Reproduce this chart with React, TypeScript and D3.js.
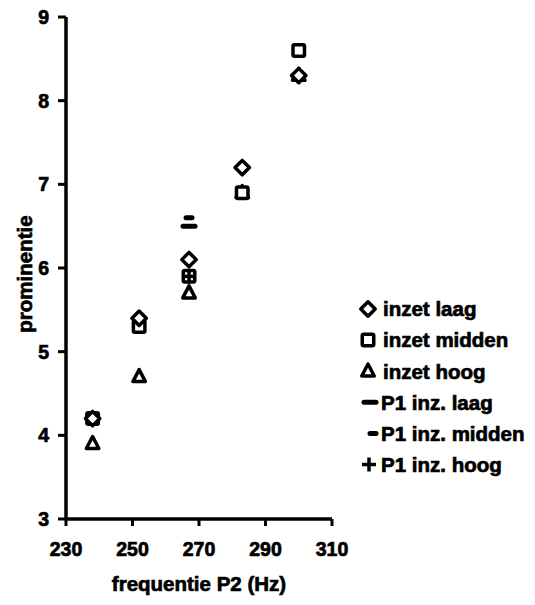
import React from "react";
import * as d3 from "d3";

const freqs = [238, 252, 267, 283, 300];
const inzetLaag = [4.2, 5.4, 6.1, 7.2, 8.3];
const inzetMidden = [4.2, 5.3, 5.9, 6.9, 8.6];
const inzetHoog = [3.9, 4.7, 5.7, 6.9, 8.3];
const p1Freqs = [267];
const p1Laag = [6.5];
const p1Midden = [6.6];
const p1Hoog = [5.9];

const seriesNames = ["inzet laag", "inzet midden", "inzet hoog", "P1 inz. laag", "P1 inz. midden", "P1 inz. hoog"];
const xTicks = [230, 250, 270, 290, 310];
const yTicks = [3, 4, 5, 6, 7, 8, 9];
const xTitle = "frequentie P2 (Hz)";
const yTitle = "prominentie";

const W = 535;
const H = 605;
const FONT = "'Liberation Sans', Arial, sans-serif";

type Kind = "diamond" | "square" | "triangle" | "longdash" | "shortdash" | "plus";

function Marker({ kind, x, y }: { kind: Kind; x: number; y: number }) {
  const sw = 3.5;
  if (kind === "diamond") {
    const r = 7.2;
    return (
      <path
        d={`M${x},${y - r}L${x + r},${y}L${x},${y + r}L${x - r},${y}Z`}
        fill="#fff"
        stroke="#000"
        strokeWidth={sw}
        strokeLinejoin="round"
      />
    );
  }
  if (kind === "square") {
    const s = 11.5;
    return <rect x={x - s / 2} y={y - s / 2} width={s} height={s} fill="#fff" stroke="#000" strokeWidth={sw} rx={1.5} />;
  }
  if (kind === "triangle") {
    const h = 12;
    const w = 12.5;
    return (
      <path
        d={`M${x},${y - h * 0.6}L${x + w / 2},${y + h * 0.4}L${x - w / 2},${y + h * 0.4}Z`}
        fill="#fff"
        stroke="#000"
        strokeWidth={sw}
        strokeLinejoin="round"
      />
    );
  }
  if (kind === "longdash") {
    return <line x1={x - 6} x2={x + 6} y1={y} y2={y} stroke="#000" strokeWidth={5} strokeLinecap="round" />;
  }
  if (kind === "shortdash") {
    return <line x1={x - 3} x2={x + 3} y1={y} y2={y} stroke="#000" strokeWidth={5} strokeLinecap="round" />;
  }
  return (
    <g stroke="#000" strokeWidth={3.5}>
      <line x1={x - 7} x2={x + 7} y1={y} y2={y} />
      <line x1={x} x2={x} y1={y - 7} y2={y + 7} />
    </g>
  );
}

export default function App() {
  const x = d3.scaleLinear().domain([230, 310]).range([66, 332]);
  const y = d3.scaleLinear().domain([3, 9]).range([519, 17]);

  const series: { kind: Kind; xs: number[]; ys: number[] }[] = [
    { kind: "triangle", xs: freqs, ys: inzetHoog },
    { kind: "square", xs: freqs, ys: inzetMidden },
    { kind: "diamond", xs: freqs, ys: inzetLaag },
    { kind: "longdash", xs: p1Freqs, ys: p1Laag },
    { kind: "shortdash", xs: p1Freqs, ys: p1Midden },
    { kind: "plus", xs: p1Freqs, ys: p1Hoog },
  ];
  const legendKinds: Kind[] = ["diamond", "square", "triangle", "longdash", "shortdash", "plus"];
  const legendMarkerX = [368, 368, 368, 370, 373, 369];
  const legendY0 = 309;
  const legendStep = 31.1;

  const textStroke = { stroke: "#000", strokeWidth: 0.7, paintOrder: "stroke" } as const;

  return (
    <svg
      width={W}
      height={H}
      style={{ position: "absolute", left: 0, top: 0, background: "#fff" }}
      fontFamily={FONT}
      fontWeight="bold"
    >
      <rect width={W} height={H} fill="#fff" />
      {/* axes */}
      <line x1={x(230)} x2={x(230)} y1={y(9)} y2={y(3)} stroke="#000" strokeWidth={3.5} />
      <line x1={x(230)} x2={x(310)} y1={y(3)} y2={y(3)} stroke="#000" strokeWidth={3.5} />
      {yTicks.map((t) => (
        <g key={"y" + t}>
          <line x1={x(230) - 8} x2={x(230)} y1={y(t)} y2={y(t)} stroke="#000" strokeWidth={3} />
          <text x={49} y={y(t)} dy="0.36em" textAnchor="end" fontSize={19.5} {...textStroke}>
            {t}
          </text>
        </g>
      ))}
      {xTicks.map((t) => (
        <g key={"x" + t}>
          <line x1={x(t)} x2={x(t)} y1={y(3)} y2={y(3) + 7} stroke="#000" strokeWidth={3} />
          <text x={x(t)} y={549} dy="0.36em" textAnchor="middle" fontSize={19.5} {...textStroke}>
            {t}
          </text>
        </g>
      ))}
      <text x={199} y={591} textAnchor="middle" fontSize={20.5} {...textStroke}>
        {xTitle}
      </text>
      <text transform={`translate(32,274) rotate(-90)`} textAnchor="middle" fontSize={20.5} {...textStroke}>
        {yTitle}
      </text>
      {/* points */}
      {series.map((s, i) => (
        <g key={"s" + i}>
          {s.xs.map((fx, j) => (
            <Marker key={j} kind={s.kind} x={x(fx)} y={y(s.ys[j])} />
          ))}
        </g>
      ))}
      {/* legend */}
      {seriesNames.map((name, i) => (
        <g key={"l" + i}>
          <Marker kind={legendKinds[i]} x={legendMarkerX[i]} y={legendY0 + i * legendStep} />
          <text x={i < 3 ? 383 : 381} y={legendY0 + i * legendStep} dy="0.36em" fontSize={20.5} {...textStroke}>
            {name}
          </text>
        </g>
      ))}
    </svg>
  );
}
